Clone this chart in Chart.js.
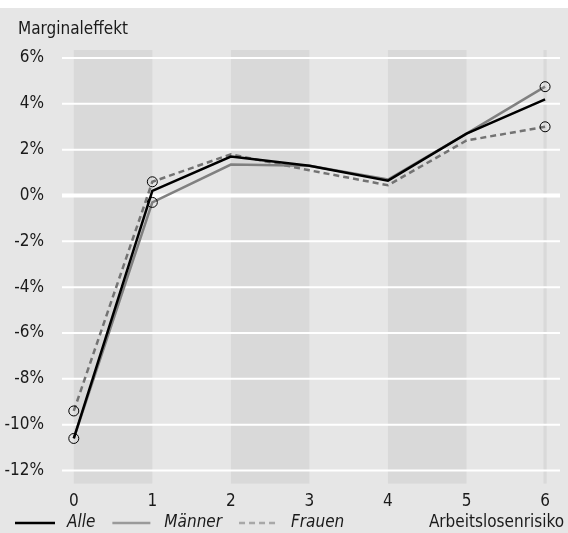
<!DOCTYPE html>
<html>
<head>
<meta charset="utf-8">
<script src="https://cdn.jsdelivr.net/npm/chart.js@4/dist/chart.umd.min.js"></script>
<style>
  html, body { margin: 0; padding: 0; background: #fff; }
  #wrap { position: absolute; left: 0; top: 8px; width: 568px; height: 525px; background: #e6e6e6; }
</style>
</head>
<body>
<div id="wrap"><canvas id="chart"></canvas></div>
<script>
const risk = [0, 1, 2, 3, 4, 5, 6];
const alle = [-10.6, 0.2, 1.7, 1.3, 0.65, 2.7, 4.2];
const maenner = [-10.6, -0.3, 1.35, 1.3, 0.7, 2.7, 4.75];
const frauen = [-9.4, 0.6, 1.8, 1.1, 0.45, 2.4, 3.0];
const markM = [1, 1, 0, 0, 0, 0, 1];
const markF = [1, 1, 0, 0, 0, 0, 1];
const yTicks = [-12, -10, -8, -6, -4, -2, 0, 2, 4, 6];
const bands = [[0, 1], [2, 3], [4, 5], [5.98, 6.02]];
const legendColors = ['#000', '#9a9a9a', '#a8a8a8'];

const FONT = "'Liberation Sans Narrow', 'DejaVu Sans Condensed', sans-serif";
Chart.defaults.font.family = FONT;
Chart.defaults.font.size = 17;
Chart.defaults.color = '#1a1a1a';

function pts(ys) {
    return risk.map((x, i) => ({ x: x, y: ys[i] }));
}

// grey bands, white grid lines, titles and the legend row
const extras = {
    id: 'extras',
    beforeDatasetsDraw(chart) {
        const { ctx, chartArea, scales } = chart;
        ctx.save();
        ctx.fillStyle = '#d9d9d9';
        bands.forEach(b => {
            const x1 = scales.x.getPixelForValue(b[0]);
            const x2 = scales.x.getPixelForValue(b[1]);
            ctx.fillRect(x1, chartArea.top, x2 - x1, chartArea.bottom - chartArea.top);
        });
        yTicks.forEach(v => {
            const y = scales.y.getPixelForValue(v);
            ctx.strokeStyle = '#fff';
            ctx.lineWidth = v === 0 ? 4 : 2;
            ctx.beginPath();
            ctx.moveTo(chartArea.left, y);
            ctx.lineTo(chartArea.right, y);
            ctx.stroke();
        });
        ctx.restore();
    },
    afterDraw(chart) {
        const ctx = chart.ctx;
        const ly = 515;
        ctx.save();
        ctx.font = '17px ' + FONT;
        ctx.fillStyle = '#1a1a1a';
        ctx.textBaseline = 'middle';
        ctx.textAlign = 'left';
        ctx.fillText('Marginaleffekt', 18, 22);
        ctx.textAlign = 'right';
        ctx.fillText('Arbeitslosenrisiko', 564, ly);

        // legend
        ctx.textAlign = 'left';
        ctx.font = 'italic 17px ' + FONT;
        let x = 15;
        chart.data.datasets.forEach((ds, i) => {
            ctx.strokeStyle = legendColors[i];
            ctx.lineWidth = ds.borderWidth;
            ctx.setLineDash(ds.borderDash || []);
            ctx.beginPath();
            ctx.moveTo(x, ly);
            ctx.lineTo(x + (i ? 38 : 40), ly);
            ctx.stroke();
            ctx.setLineDash([]);
            x += 52;
            ctx.fillText(ds.label, x, ly);
            x += ctx.measureText(ds.label).width + 17;
        });
        ctx.restore();
    }
};

new Chart(document.getElementById('chart'), {
    type: 'line',
    data: {
        datasets: [
            {
                label: 'Alle',
                data: pts(alle),
                borderColor: '#000',
                borderWidth: 2.5,
                pointRadius: 0,
                order: 1
            },
            {
                label: 'Männer',
                data: pts(maenner),
                borderColor: '#808080',
                borderWidth: 2.5,
                pointRadius: markM.map(m => m * 5),
                pointBorderColor: '#000',
                pointBorderWidth: 1,
                pointBackgroundColor: 'rgba(0,0,0,0)',
                order: 2
            },
            {
                label: 'Frauen',
                data: pts(frauen),
                borderColor: '#737373',
                borderWidth: 2.5,
                borderDash: [6, 4],
                pointRadius: markF.map(m => m * 5),
                pointBorderColor: '#000',
                pointBorderWidth: 1,
                pointBackgroundColor: 'rgba(0,0,0,0)',
                order: 3
            }
        ]
    },
    options: {
        responsive: true,
        maintainAspectRatio: false,
        animation: false,
        layout: { padding: { top: 42, left: 0, right: 8, bottom: 21 } },
        plugins: {
            tooltip: { enabled: false },
            legend: { display: false }
        },
        scales: {
            x: {
                type: 'linear',
                min: -0.15,
                max: 6.19,
                afterBuildTicks: s => { s.ticks = risk.map(v => ({ value: v })); },
                grid: { display: false },
                border: { display: false },
                ticks: { padding: 0, color: '#1a1a1a' }
            },
            y: {
                min: -12.57,
                max: 6.35,
                afterBuildTicks: s => { s.ticks = yTicks.map(v => ({ value: v })); },
                afterFit: s => { s.width = 62; },
                grid: { display: false },
                border: { display: false },
                ticks: { padding: 10, color: '#1a1a1a', callback: v => v + '%' }
            }
        }
    },
    plugins: [extras]
});
</script>
</body>
</html>
